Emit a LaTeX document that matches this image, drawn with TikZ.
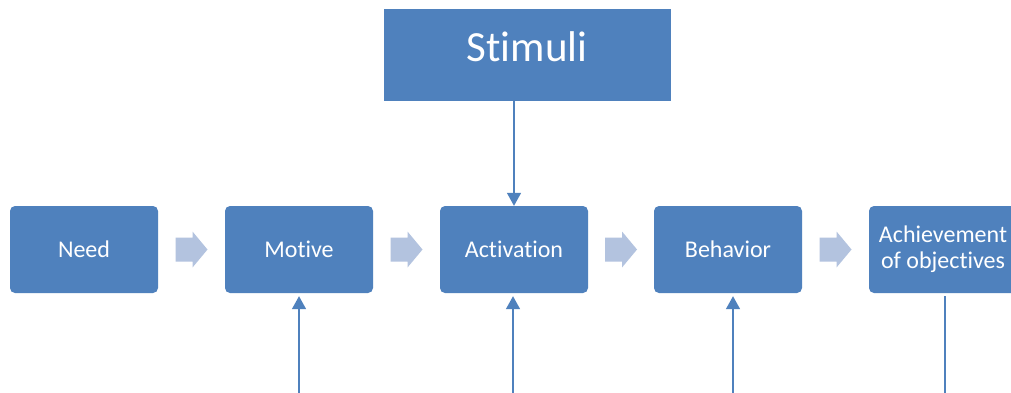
\documentclass[tikz,border=0pt]{standalone}
\usepackage{fontspec}
\setmainfont[Ligatures={NoCommon}]{Carlito}
\usetikzlibrary{arrows.meta,calc}
\definecolor{boxblue}{HTML}{4F81BD}
\definecolor{lightarrow}{HTML}{B3C3DF}
\begin{document}
\begin{tikzpicture}[x=1pt,y=-1pt,
  box/.style={fill=boxblue,rounded corners=5pt,minimum width=148pt,minimum height=87pt,inner sep=0pt,
    text=white,align=center,font=\fontsize{24}{26}\selectfont},
  sbox/.style={fill=boxblue,minimum width=287pt,minimum height=92pt,inner sep=0pt},
  stext/.style={text=white,font=\fontsize{43}{45}\selectfont,inner sep=0pt},
  conn/.style={draw=boxblue,line width=1.5pt},
  connarrow/.style={conn,-{Triangle[width=14pt,length=13pt]}},
  barrow/.style={fill=lightarrow}]
\clip (0,0) rectangle (1011,392);
\fill[white] (0,0) rectangle (1011,392);
% Stimuli
\node[sbox] (stim) at (527.5,55) {};
\node[stext,anchor=base] (stimtext) at (527,61) {Stimuli};
% main boxes
\node[box] (need) at (84,249.5) {Need};
\node[box] (mot) at (299,249.5) {Motive};
\node[box] (act) at (514,249.5) {Activation};
\node[box] (beh) at (728,249.5) {Behavior};
\node[box] (ach) at (943,249.5) {Achievement\\of objectives};
% block arrows
\foreach \a/\b in {need/mot,mot/act,act/beh,beh/ach}{
  \coordinate (c) at ($(\a.east)!0.5!(\b.west)$);
  \fill[barrow] ($(c)+(-16,-12)$) -- ($(c)+(1,-12)$) -- ($(c)+(1,-18)$) -- ($(c)+(16,0)$)
    -- ($(c)+(1,18)$) -- ($(c)+(1,12)$) -- ($(c)+(-16,12)$) -- cycle;
}
% stimuli connector
\draw[connarrow] (act.north |- stim.south) -- (act.north);
% bottom connectors
\coordinate (mb) at (299,400);
\coordinate (ab) at (513,400);
\coordinate (bb) at (733,400);
\coordinate (cb) at (945,400);
\draw[connarrow] (mb) -- ($(mb |- mot.south)+(0,3)$);
\draw[connarrow] (ab) -- ($(ab |- act.south)+(0,3)$);
\draw[connarrow] (bb) -- ($(bb |- beh.south)+(0,3)$);
\draw[conn] (cb) -- ($(cb |- ach.south)+(0,3)$);
\end{tikzpicture}
\end{document}
